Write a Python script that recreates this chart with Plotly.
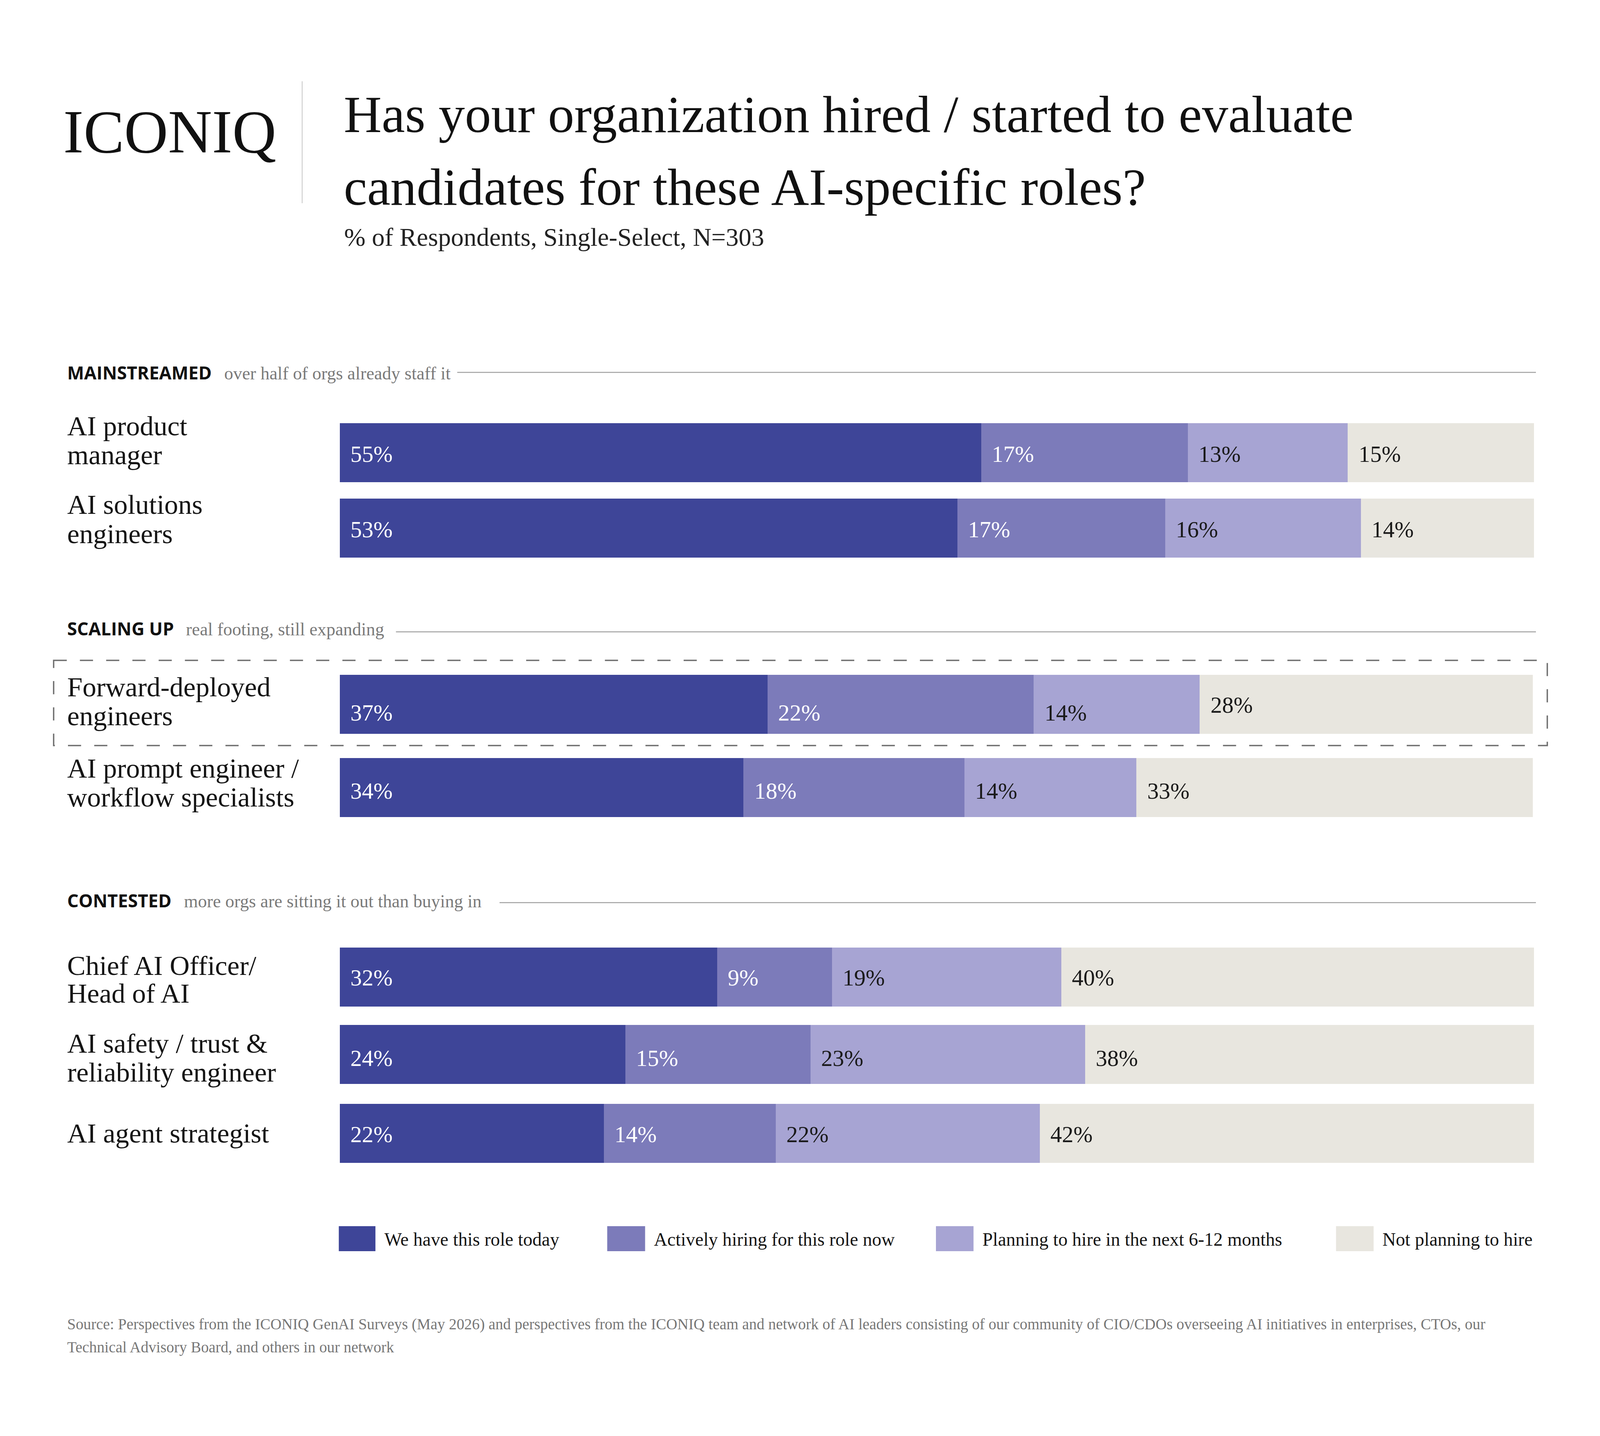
import plotly.graph_objects as go

# ---------------- data ----------------
role_lines = [
    ["AI product", "manager"],
    ["AI solutions", "engineers"],
    ["Forward-deployed", "engineers"],
    ["AI prompt engineer /", "workflow specialists"],
    ["Chief AI Officer/", "Head of AI"],
    ["AI safety / trust &", "reliability engineer"],
    ["AI agent strategist"],
]
series_names = [
    "We have this role today",
    "Actively hiring for this role now",
    "Planning to hire in the next 6-12 months",
    "Not planning to hire",
]
# printed percentage labels
have_today_pct = [55, 53, 37, 34, 32, 24, 22]
hiring_now_pct = [17, 17, 22, 18, 9, 15, 14]
planning_pct = [13, 16, 14, 14, 19, 23, 22]
not_planning_pct = [15, 14, 28, 33, 40, 38, 42]
# segment lengths as drawn (share of the full bar)
have_today_bar = [53.7, 51.7, 35.8, 33.8, 31.6, 23.9, 22.1]
hiring_now_bar = [17.3, 17.4, 22.3, 18.5, 9.6, 15.5, 14.4]
planning_bar = [13.4, 16.4, 13.9, 14.4, 19.2, 23.0, 22.1]
not_planning_bar = [15.6, 14.5, 27.9, 33.2, 39.6, 37.6, 41.4]

sections = [
    ("MAINSTREAMED", "over half of orgs already staff it"),
    ("SCALING UP", "real footing, still expanding"),
    ("CONTESTED", "more orgs are sitting it out than buying in"),
]
title_lines = ["Has your organization hired / started to evaluate",
               "candidates for these AI-specific roles?"]
subtitle = "% of Respondents, Single-Select, N=303"
source_lines = [
    "Source: Perspectives from the ICONIQ GenAI Surveys (May 2026) and perspectives from the ICONIQ team and network of AI leaders consisting of our community of CIO/CDOs overseeing AI initiatives in enterprises, CTOs, our",
    "Technical Advisory Board, and others in our network",
]

# ---------------- layout / style constants ----------------
# Design coordinates are reference-image pixels (5067 x 3675).
# The figure autosizes to the browser window; x uses paper fractions,
# y uses an axis whose units are design pixels.
W, H = 5067, 3675
VW, VH = 4054, 3675          # expected css viewport
BODY_M = 8                   # default body margin (css px)
SX = VW / W                  # css px per design px, horizontally
FS = 0.82                    # font scale (css px per design px)
SERIF = "Liberation Serif"
SANS = "Open Sans"
colors = ["#3e4598", "#7c7bba", "#a7a4d3", "#e8e6df"]
text_colors = ["#ffffff", "#ffffff", "#1a1a1a", "#1a1a1a"]
row_y = [1158.5, 1351.5, 1802, 2015.5, 2500, 2698.5, 2900]
bar_thick = 151
label_line_y = [[1090, 1164], [1291, 1366], [1758, 1832], [1966, 2040],
                [2471, 2542], [2670, 2744], [2900]]
pct_dy = [[3, 3, 3, 3], [3, 3, 3, 3], [22, 22, 22, 2], [8, 8, 8, 8],
          [2, 2, 2, 2], [9, 9, 9, 9], [3, 3, 3, 3]]
sec_y = [953, 1608, 2304]
sec_desc_x = [708, 587, 580]
sec_line_x0 = [1448, 1254, 1582]
sec_line_y = [953, 1617, 2310]
line_x1 = 4864
bar_x0, bar_x1 = 1076, 4858
legend_sw = [(1073, 1189), (1923, 2043), (2964, 3083), (4231, 4350)]
legend_tx = [1215, 2068, 3109, 4376]

bars = [have_today_bar, hiring_now_bar, planning_bar, not_planning_bar]
pcts = [have_today_pct, hiring_now_pct, planning_pct, not_planning_pct]


def px(x):
    """design x pixel -> paper fraction"""
    return (x * SX - BODY_M) / (VW - 2 * BODY_M)


def fs(size):
    return size * FS


Y_TOP = BODY_M * H / VH
Y_BOT = H - BODY_M * H / VH

fig = go.Figure()
for i, name in enumerate(series_names):
    fig.add_trace(go.Bar(
        x=bars[i], y=row_y, orientation="h", width=bar_thick, name=name,
        marker=dict(color=colors[i], line=dict(width=0)),
        showlegend=False, hoverinfo="skip",
    ))

ann = []
shapes = []


def text(t, x, y, size, color, family=SERIF, weight=None):
    f = dict(family=family, size=fs(size), color=color)
    if weight:
        f["weight"] = weight
    ann.append(dict(text=t, x=px(x), y=y, xref="paper", yref="y",
                    xanchor="left", yanchor="middle", showarrow=False, font=f))


# logo + separator
text("ICONIQ", 198, 337, 190, "#111111")
shapes.append(dict(type="line", xref="paper", yref="y", x0=px(957), x1=px(957),
                   y0=208, y1=520, line=dict(color="#d0d0d0", width=2.5)))
# title
for t, yy in zip(title_lines, [292, 478]):
    text(t, 1086, yy, 164, "#111111")
text(subtitle, 1088, 607, 80, "#222222")

# sections
for k, (head, desc) in enumerate(sections):
    text(head, 210, sec_y[k], 56, "#111111", family=SANS, weight=700)
    text(desc, sec_desc_x[k], sec_y[k] + 2, 56, "#7a7a7a")
    shapes.append(dict(type="line", xref="paper", yref="y",
                       x0=px(sec_line_x0[k]), x1=px(line_x1),
                       y0=sec_line_y[k], y1=sec_line_y[k],
                       line=dict(color="#a0a0a0", width=2.5)))

# row labels
for r, lines in enumerate(role_lines):
    for ln, yy in zip(lines, label_line_y[r]):
        text(ln, 210, yy, 86, "#141414")

# percentage labels inside segments
for r in range(len(row_y)):
    start = 0.0
    for i in range(4):
        ann.append(dict(text=f"{pcts[i][r]}%", x=start, y=row_y[r] + pct_dy[r][i],
                        xref="x", yref="y", xanchor="left", yanchor="middle",
                        xshift=32 * SX, showarrow=False,
                        font=dict(family=SERIF, size=fs(72), color=text_colors[i])))
        start += bars[i][r]

# dashed highlight box
dash_len = 42 * SX
shapes.append(dict(type="rect", xref="paper", yref="y", x0=px(170), x1=px(4900),
                   y0=1690, y1=1908,
                   line=dict(color="#707070", width=3.5, dash=f"{dash_len:.1f}px,{dash_len:.1f}px"),
                   fillcolor="rgba(0,0,0,0)", layer="above"))

# legend
for i, name in enumerate(series_names):
    x0, x1 = legend_sw[i]
    shapes.append(dict(type="rect", xref="paper", yref="y", x0=px(x0), x1=px(x1),
                       y0=3138, y1=3202, line=dict(width=0), fillcolor=colors[i]))
    text(name, legend_tx[i], 3172, 58, "#141414")

# source
for t, yy in zip(source_lines, [3389, 3448]):
    text(t, 210, yy, 48, "#777777")

fig.update_layout(
    autosize=True, margin=dict(l=0, r=0, t=0, b=0, pad=0),
    paper_bgcolor="white", plot_bgcolor="white",
    barmode="stack", bargap=0,
    xaxis=dict(domain=[px(bar_x0), px(bar_x1)], range=[0, 100], visible=False,
               fixedrange=True),
    yaxis=dict(domain=[0, 1], range=[Y_BOT, Y_TOP], visible=False, fixedrange=True),
    annotations=ann, shapes=shapes, showlegend=False,
)

fig.write_html("out.html")
